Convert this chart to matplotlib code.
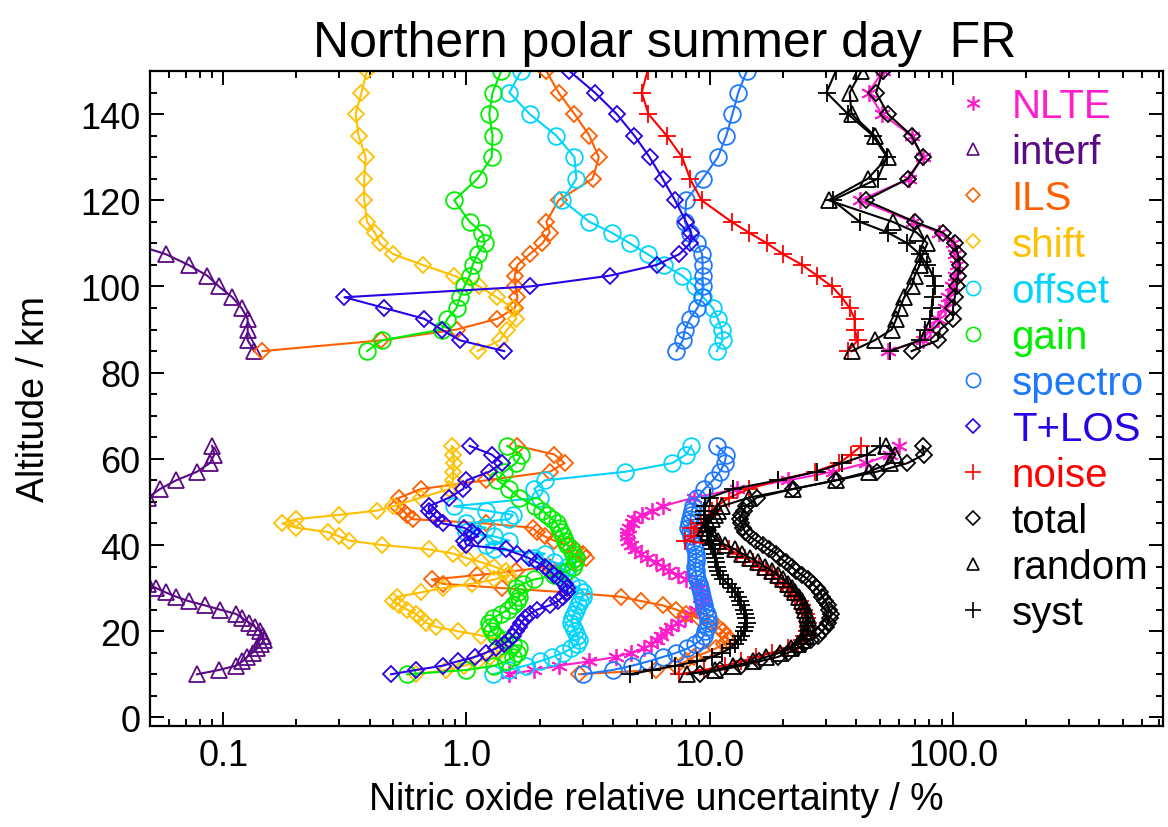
import numpy as np
import matplotlib
matplotlib.use("Agg")
import matplotlib.pyplot as plt
from matplotlib.lines import Line2D
from matplotlib.ticker import LogLocator, MultipleLocator, NullFormatter

plt.rcParams['font.family'] = ['Liberation Sans', 'DejaVu Sans']

# ---------------- data ----------------
alt_up = [85, 87.5, 90, 92.5, 95, 97.5, 100, 102.5, 105, 107.5, 110, 112.5, 115,
          120, 125, 130, 135, 140, 145, 150]
alt_lo = [10, 11, 12, 13, 14, 15, 16, 17, 18, 19,
          20, 21, 22, 23, 24, 25, 26, 27, 28, 29,
          30, 31, 32, 33, 34, 35, 36, 37, 38, 39,
          40, 41, 42, 43, 44, 45, 46, 47, 48, 49,
          51, 53, 55, 57, 59, 61, 63]

nlte_up = [54, 75, 80.6, 86.6, 93, 95.5, 98.8, 101.7, 103.7, 101.7, 100, 88, 68.3, 41.4, 66, 75, 67.6, 51, 45, 51.5]
nlte_lo = [1.5, 1.9, 2.4, 3.2, 4.1, 4.75, 5.35, 5.75, 6.05, 6.3,
           6.6, 6.95, 7.4, 7.9, 8.35, 8.8, 9.1, 9.3, 9.35, 9.3,
           9.2, 8.8, 8.0, 7.4, 6.8, 6.4, 6.0, 5.5, 5.2, 4.95,
           4.75, 4.6, 4.55, 4.55, 4.65, 4.8, 4.9, 5.25, 5.8, 6.4,
           8.6, 13.0, 21, 32, 44, 55, 60]

interf_up = [0.134, 0.126, 0.126, 0.126, 0.119, 0.109, 0.096, 0.086, 0.072, 0.058, 0.042, 0.035, 0.03, 0.025, 0.02, 0.018, 0.016, 0.015, 0.014, 0.013]
interf_lo = [0.078, 0.096, 0.113, 0.12, 0.125, 0.132, 0.138, 0.143, 0.147, 0.146,
             0.141, 0.135, 0.128, 0.12, 0.113, 0.097, 0.084, 0.072, 0.064, 0.058,
             0.053, 0.049, 0.045, 0.042, 0.04, 0.038, 0.036, 0.034, 0.033, 0.032,
             0.031, 0.031, 0.032, 0.033, 0.034, 0.036, 0.038, 0.04, 0.042, 0.045,
             0.049, 0.055, 0.064, 0.078, 0.088, 0.092, 0.09]

ils_up = [0.145, 0.447, 0.91, 1.34, 1.58, 1.62, 1.59, 1.58, 1.62, 1.82, 2.05, 2.2, 2.13, 2.39, 3.3, 3.5, 3.2, 2.78, 2.39, 2.13]
ils_lo = [2.9, 6.0, 7.3, 8.0, 8.6, 9.6, 10.6, 11.4, 11.9, 11.8,
          11.3, 10.8, 10.1, 9.0, 8.0, 7.3, 6.4, 5.2, 4.3, 2.6,
          1.4, 0.8, 0.72, 1.1, 1.6, 2.2, 2.8, 3.1, 3.0, 2.8,
          2.6, 2.3, 2.1, 1.95, 1.87, 1.2, 0.6, 0.57, 0.55, 0.52,
          0.53, 0.65, 1.2, 2.2, 2.53, 2.3, 1.62]

shift_up = [1.11, 1.37, 1.47, 1.6, 1.55, 1.33, 1.13, 0.89, 0.66, 0.50, 0.44, 0.42, 0.39, 0.38, 0.38, 0.385, 0.36, 0.35, 0.37, 0.39]
shift_lo = [0.62, 0.82, 0.98, 1.12, 1.25, 1.35, 1.4, 1.42, 1.38, 1.15,
            0.92, 0.75, 0.68, 0.65, 0.62, 0.57, 0.53, 0.5, 0.52, 0.65,
            0.8, 1.05, 1.3, 1.48, 1.45, 1.3, 1.15, 1.0, 0.88, 0.7,
            0.45, 0.33, 0.3, 0.27, 0.2, 0.175, 0.2, 0.3, 0.43, 0.5,
            0.65, 0.85, 0.88, 0.88, 0.89, 0.88, 0.87]

offset_up = [10.7, 11.3, 11.2, 10.8, 10.3, 9.4, 8.7, 7.7, 6.5, 5.55, 4.7, 3.95, 3.2, 2.48, 2.83, 2.78, 2.34, 1.82, 1.50, 1.68]
offset_lo = [1.28, 1.5, 1.75, 2.0, 2.25, 2.5, 2.7, 2.85, 2.9, 2.85,
             2.8, 2.75, 2.7, 2.72, 2.78, 2.82, 2.88, 2.92, 3.0, 3.02,
             2.9, 2.7, 2.5, 2.35, 2.45, 2.6, 2.3, 1.9, 2.1, 1.3,
             1.2, 1.5, 1.3, 1.0, 1.2, 1.0, 1.5, 1.55, 1.2, 0.89,
             2.0, 1.9, 2.1, 4.5, 7.0, 8.0, 8.4]

gain_up = [0.39, 0.45, 0.79, 0.835, 0.91, 0.94, 0.98, 1.03, 1.06, 1.11, 1.19, 1.16, 1.03, 0.89, 1.11, 1.27, 1.28, 1.24, 1.28, 1.39]
gain_lo = [0.57, 1.0, 1.3, 1.45, 1.55, 1.62, 1.65, 1.55, 1.42, 1.32,
           1.27, 1.25, 1.24, 1.28, 1.38, 1.48, 1.55, 1.62, 1.65, 1.63,
           1.6, 1.7, 1.9, 2.3, 2.6, 2.75, 2.8, 2.83, 2.75, 2.7,
           2.6, 2.53, 2.5, 2.45, 2.4, 2.35, 2.25, 2.15, 2.05, 1.92,
           1.65, 1.5, 1.34, 1.43, 1.6, 1.68, 1.47]

spectro_up = [7.3, 7.75, 7.9, 8.3, 8.9, 9.3, 9.35, 9.35, 9.35, 9.3, 8.9, 8.3, 7.9, 8.0, 9.35, 10.8, 11.7, 12.4, 13.1, 14.2]
spectro_lo = [3.0, 4.0, 4.8, 5.6, 6.4, 7.3, 8.1, 8.7, 9.2, 9.45,
              9.6, 9.7, 9.8, 9.85, 9.75, 9.6, 9.5, 9.4, 9.3, 9.2,
              9.1, 9.0, 8.9, 8.8, 8.75, 8.7, 8.75, 8.8, 8.8, 8.7,
              8.6, 8.45, 8.35, 8.3, 8.15, 8.2, 8.3, 8.4, 8.45, 8.55,
              8.9, 9.5, 10.3, 11.0, 11.5, 11.7, 10.7]

tlos_up = [1.43, 0.94, 0.79, 0.67, 0.46, 0.315, 1.82, 3.88, 6.05, 7.5, 8.3, 8.4, 8.0, 7.2, 6.4, 5.66, 4.9, 4.15, 3.37, 2.65]
tlos_lo = [0.49, 0.62, 0.8, 0.92, 1.08, 1.2, 1.32, 1.42, 1.5, 1.55,
           1.6, 1.64, 1.68, 1.74, 1.82, 1.95, 2.2, 2.38, 2.5, 2.6,
           2.6, 2.55, 2.42, 2.3, 2.2, 2.1, 1.95, 1.8, 1.62, 1.45,
           1.0, 0.98, 1.12, 1.05, 0.98, 0.8, 0.76, 0.73, 0.7, 0.7,
           0.85, 0.97, 1.0, 1.24, 1.4, 1.27, 1.03]

noise_up = [37, 40.6, 39.4, 39.4, 37.6, 34.9, 31.8, 27.6, 24, 20, 17.2, 14.5, 12.3, 9.25, 8.3, 7.7, 6.65, 5.6, 5.25, 5.55]
noise_lo = [7.5, 9.5, 11.5, 13.5, 15.5, 18, 21, 23, 24, 24.5,
            25, 25.3, 25.3, 25, 24.8, 24.5, 24, 23.5, 22.5, 21.5,
            21, 20, 19, 18, 17, 16, 15, 14, 13, 12,
            11, 7.9, 8.6, 9.3, 8.4, 9.2, 9.6, 9.9, 10.2, 10.7,
            12.0, 14.5, 19, 27, 34, 38, 42]

total_up = [67.6, 86.6, 88.3, 100, 100, 101.7, 103.7, 104.8, 106.8, 104.8, 101.7, 90.8, 69.6, 43.7, 65.2, 75, 67.6, 54, 48.3, 51.5]
total_lo = [9.1, 11, 13.5, 16, 19, 21, 22.8, 24.5, 26, 27.8,
            29, 30, 30.5, 31.2, 31.5, 31, 30.5, 29.8, 29, 28.5,
            27.6, 26.5, 25.3, 24, 22.6, 21.7, 20.5, 19.5, 18.8, 17.5,
            16.5, 15.5, 14.6, 14.0, 13.7, 13.5, 13.3, 13.5, 13.8, 14.1,
            15.6, 22, 33, 48.5, 65, 76, 75]

random_up = [38.3, 47.6, 56, 58.5, 60.5, 63, 67.6, 69.6, 73, 75, 78.5, 71, 56.5, 30.8, 44.6, 54, 47.6, 38.3, 37.6, 42]
random_lo = [8.1, 10.5, 12.5, 15, 17, 19.4, 21.5, 23, 24, 24.8,
             25.2, 25.4, 25.4, 25.3, 25, 24.7, 24.3, 24, 23.3, 22.5,
             21.8, 21, 20, 19, 18, 16.8, 15.8, 14.7, 13.6, 12.7,
             11.6, 10.8, 10.3, 9.8, 9.6, 9.8, 10.2, 10.5, 10.8, 11.2,
             14.5, 22, 33, 45, 55, 58, 53]

syst_up = [55, 73, 76.8, 80.6, 81.6, 82.6, 84, 82.6, 78.5, 73, 65, 54, 41.4, 32, 49, 53.5, 46.8, 37, 30.2, 33]
syst_lo = [4.7, 5.8, 7.2, 8.9, 10.2, 11.2, 12.1, 12.7, 13.1, 13.5,
           13.8, 14.0, 14.2, 14.1, 14.0, 13.8, 13.5, 13.3, 13.1, 12.7,
           12.3, 11.9, 11.3, 11.0, 10.8, 10.7, 10.6, 10.5, 10.5, 10.3,
           10.1, 9.9, 9.8, 9.7, 9.7, 9.6, 9.5, 9.5, 9.5, 9.6,
           10.0, 12.5, 19, 27.5, 35, 44.5, 50]

labels = ['NLTE', 'interf', 'ILS', 'shift', 'offset', 'gain', 'spectro',
          'T+LOS', 'noise', 'total', 'random', 'syst']
colors = ['#FF1DCE', '#5A0A85', '#FF5F00', '#FFC000', '#00D4FF', '#00EE00',
          '#1E78FF', '#2A00E6', '#FF0000', '#000000', '#000000', '#000000']
series_lo = [nlte_lo, interf_lo, ils_lo, shift_lo, offset_lo, gain_lo,
             spectro_lo, tlos_lo, noise_lo, total_lo, random_lo, syst_lo]
series_up = [nlte_up, interf_up, ils_up, shift_up, offset_up, gain_up,
             spectro_up, tlos_up, noise_up, total_up, random_up, syst_up]

# ---------------- styles ----------------
AST = (6, 2, 0)
markers = [AST, '^', 'D', 'D', 'o', 'o', 'o', 'D', '+', 'D', '^', '+']
msizes = {AST: 12, '^': 11, 'D': 8.5, 'o': 12, '+': 13}

fig = plt.figure(figsize=(11.68, 8.28), dpi=100)
ax = fig.add_axes([150 / 1168, 1 - 727 / 828, (1163 - 150) / 1168, (727 - 72) / 828])

for lab, col, mk, lo, up in zip(labels, colors, markers, series_lo, series_up):
    alts = list(alt_lo) + [np.nan] + list(alt_up)
    vals = list(lo) + [np.nan] + list(up)
    ax.plot(vals, alts, color=col, lw=1.5, marker=mk, ms=msizes[mk],
            mfc='none', mec=col, mew=1.3)

ax.set_xscale('log')
ax.set_xlim(0.05, 730)
ax.set_ylim(-2, 150)

ax.set_xticks([0.1, 1, 10, 100], labels=['0.1', '1.0', '10.0', '100.0'])
ax.xaxis.set_minor_locator(LogLocator(base=10, subs=np.arange(2, 10)))
ax.xaxis.set_minor_formatter(NullFormatter())
ax.set_yticks(np.arange(0, 141, 20))
ax.yaxis.set_minor_locator(MultipleLocator(5))

ax.tick_params(which='both', direction='in', top=True, right=True, width=1.4)
ax.tick_params(which='major', length=10, labelsize=26)
ax.tick_params(axis='y', which='major', pad=7)
ax.tick_params(axis='x', which='major', pad=9)
ax.tick_params(which='minor', length=5)
for s in ax.spines.values():
    s.set_linewidth(1.6)

ax.set_xlabel('Nitric oxide relative uncertainty / %', fontsize=27)
ax.set_ylabel('Altitude / km', fontsize=27)
ax.xaxis.set_label_coords(0.5, -0.084)
ax.yaxis.set_label_coords(-0.097, 0.5)
ax.set_title('Northern polar summer day  FR', fontsize=36, pad=11, x=0.508)

handles = [Line2D([], [], ls='none', marker=mk, ms=msizes[mk] * 0.85, mfc='none',
                  mec=col, mew=1.2) for mk, col in zip(markers, colors)]
leg = ax.legend(handles, labels, loc='upper left', bbox_to_anchor=(0.793, 0.975),
                frameon=False, fontsize=29, labelcolor=colors, handlelength=1.0,
                handletextpad=0.45, borderpad=0, borderaxespad=0, labelspacing=0.2)

fig.savefig('out.png', dpi=100)
